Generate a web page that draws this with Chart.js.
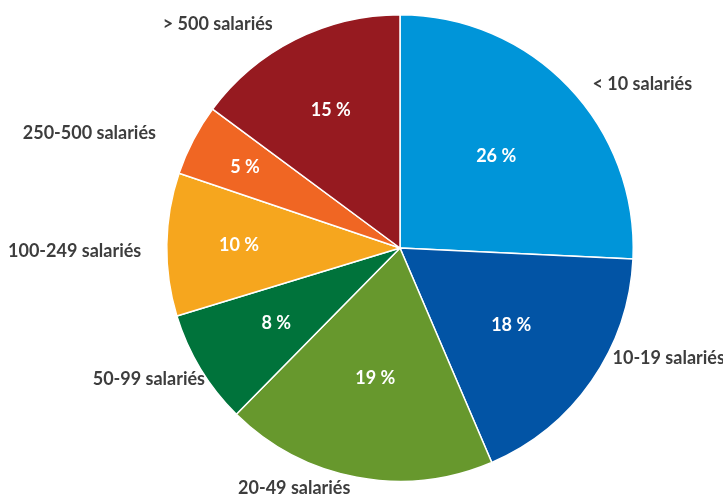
<!DOCTYPE html>
<html>
<head>
<meta charset="utf-8">
<script src="https://cdn.jsdelivr.net/npm/chart.js@4"></script>
<style>
    html, body { margin: 0; padding: 0; background: #fff; }
    #wrap { width: 723px; height: 495px; }
</style>
</head>
<body>
<div id="wrap"><canvas id="pieChart" width="723" height="495"></canvas></div>
<script>
// ── Data ─────────────────────────────────────────────────────
const categories = ["< 10 salariés", "10-19 salariés", "20-49 salariés", "50-99 salariés",
                    "100-249 salariés", "250-500 salariés", "> 500 salariés"];
const shares = [26, 18, 19, 8, 10, 5, 15];
const shareLabels = ["26 %", "18 %", "19 %", "8 %", "10 %", "5 %", "15 %"];
const sliceColors = ["#0095d9", "#0254a5", "#67982d", "#00733b", "#f6a61e", "#f06623", "#961a20"];

// label placement: [angle deg clockwise from top, radius as factor of pie radius]
const outerPlacement = [[56, 1.253], [112.3, 1.245], [203.8, 1.124], [242.4, 1.215],
                        [269.5, 1.395], [290.3, 1.42], [320.8, 1.236]];
const innerRadius = [0.57, 0.58, 0.57, 0.62, 0.69, 0.75, 0.66];

const FONT = "bold 18px Lato, 'Open Sans', sans-serif";

// ── Labels plugin ────────────────────────────────────────────
const pieLabels = {
    id: "pieLabels",
    afterDatasetsDraw(chart) {
        const ctx = chart.ctx;
        const arcs = chart.getDatasetMeta(0).data;
        ctx.save();
        ctx.font = FONT;
        ctx.textAlign = "center";
        ctx.textBaseline = "middle";
        arcs.forEach((arc, i) => {
            const { x, y, startAngle, endAngle, outerRadius } = arc.getProps(
                ["x", "y", "startAngle", "endAngle", "outerRadius"], true);
            const mid = (startAngle + endAngle) / 2;
            const ri = outerRadius * innerRadius[i];
            ctx.fillStyle = "#ffffff";
            ctx.fillText(shareLabels[i], x + Math.cos(mid) * ri, y + Math.sin(mid) * ri);

            const a = (outerPlacement[i][0] - 90) * Math.PI / 180;
            const ro = outerRadius * outerPlacement[i][1];
            ctx.fillStyle = "#3d3d3d";
            ctx.fillText(categories[i], x + Math.cos(a) * ro, y + Math.sin(a) * ro);
        });
        ctx.restore();
    },
};

new Chart(document.getElementById("pieChart"), {
    type: "pie",
    data: {
        labels: categories,
        datasets: [{
            data: shares,
            backgroundColor: sliceColors,
            borderColor: "#ffffff",
            borderWidth: 1.5,
        }],
    },
    options: {
        responsive: false,
        animation: false,
        layout: { padding: { left: 166, right: 89, top: 14, bottom: 13 } },
        plugins: {
            legend: { display: false },
            tooltip: { enabled: false },
        },
    },
    plugins: [pieLabels],
});
</script>
</body>
</html>
